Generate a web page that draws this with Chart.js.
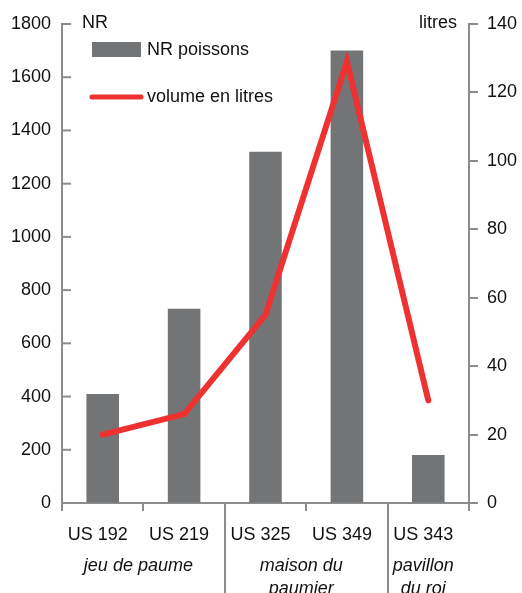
<!DOCTYPE html>
<html>
<head>
<meta charset="utf-8">
<script src="https://cdn.jsdelivr.net/npm/chart.js@4"></script>
<style>
  html, body { margin: 0; padding: 0; background: #fff; }
  canvas { display: block; }
</style>
</head>
<body>
<canvas id="chart" width="522" height="593"></canvas>
<script>
// data
const categories = ['US 192', 'US 219', 'US 325', 'US 349', 'US 343'];
const nrPoissons = [410, 730, 1320, 1700, 180];
const volumeLitres = [20, 26, 55, 129, 30];
const groups = [
    { lines: ['jeu de paume'], from: 0, to: 1 },
    { lines: ['maison du', 'paumier'], from: 2, to: 3 },
    { lines: ['pavillon', 'du roi'], from: 4, to: 4 }
];

const axisGrey = '#8c8c8c';
const textColor = '#111';
const font = 'Liberation Sans, Arial, sans-serif';

// extras: inward ticks on the left axis, group labels, separators, legend, axis titles
const extras = {
    id: 'extras',
    afterDraw(chart) {
        const c = chart.ctx;
        const area = chart.chartArea;
        const x = chart.scales.x;
        const y = chart.scales.y;
        c.save();

        // left axis ticks point into the plot
        c.strokeStyle = axisGrey;
        c.lineWidth = 2;
        y.ticks.forEach(t => {
            const py = y.getPixelForValue(t.value);
            c.beginPath();
            c.moveTo(area.left, py);
            c.lineTo(area.left + 9, py);
            c.stroke();
        });

        // long separators between groups
        const step = (area.right - area.left) / categories.length;
        groups.slice(1).forEach(g => {
            const sx = Math.round(area.left + g.from * step);
            c.beginPath();
            c.moveTo(sx, area.bottom);
            c.lineTo(sx, 593);
            c.stroke();
        });

        // group names
        c.fillStyle = textColor;
        c.font = 'italic 18px ' + font;
        c.textAlign = 'center';
        c.textBaseline = 'alphabetic';
        groups.forEach(g => {
            const cx = (x.getPixelForValue(g.from) + x.getPixelForValue(g.to)) / 2 - 5;
            g.lines.forEach((txt, i) => c.fillText(txt, cx, 571 + i * 23));
        });

        // axis titles
        c.font = '18px ' + font;
        c.textAlign = 'left';
        c.fillText('NR', 82, 28);
        c.textAlign = 'right';
        c.fillText('litres', 457, 28);

        // legend
        c.fillStyle = '#727476';
        c.fillRect(92, 42, 49, 15);
        c.strokeStyle = '#ee3131';
        c.lineWidth = 5;
        c.lineCap = 'round';
        c.beginPath();
        c.moveTo(92, 97);
        c.lineTo(141, 97);
        c.stroke();
        c.fillStyle = textColor;
        c.textAlign = 'left';
        c.fillText('NR poissons', 147, 55);
        c.fillText('volume en litres', 147, 102);

        c.restore();
    }
};

new Chart(document.getElementById('chart'), {
    data: {
        labels: categories,
        datasets: [{
            type: 'line',
            label: 'volume en litres',
            data: volumeLitres,
            yAxisID: 'y1',
            borderColor: '#ee3131',
            borderWidth: 6,
            borderCapStyle: 'round',
            borderJoinStyle: 'miter',
            pointRadius: 0,
            tension: 0
        }, {
            type: 'bar',
            label: 'NR poissons',
            data: nrPoissons,
            yAxisID: 'y',
            backgroundColor: '#727476',
            categoryPercentage: 1,
            barPercentage: 0.4
        }]
    },
    options: {
        responsive: false,
        animation: false,
        devicePixelRatio: 1,
        layout: { padding: { top: 24, left: 0, right: 0, bottom: 0 } },
        plugins: {
            legend: { display: false },
            tooltip: { enabled: false }
        },
        scales: {
            x: {
                afterFit(scale) { scale.height = 90; },
                border: { color: axisGrey, width: 2 },
                grid: { offset: true, drawOnChartArea: false, color: axisGrey, lineWidth: 2, tickLength: 8 },
                ticks: { color: textColor, font: { family: font, size: 18 }, padding: 13, labelOffset: -5, maxRotation: 0, autoSkip: false }
            },
            y: {
                position: 'left',
                min: 0,
                max: 1800,
                afterFit(scale) { scale.width = 62; },
                border: { color: axisGrey, width: 2 },
                grid: { drawOnChartArea: false, drawTicks: false },
                ticks: { stepSize: 200, color: textColor, font: { family: font, size: 18 }, padding: 11, callback: v => String(v) }
            },
            y1: {
                position: 'right',
                min: 0,
                max: 140,
                afterFit(scale) { scale.width = 53; },
                border: { color: axisGrey, width: 2 },
                grid: { drawOnChartArea: false, color: axisGrey, lineWidth: 2, tickLength: 9 },
                ticks: { stepSize: 20, color: textColor, font: { family: font, size: 18 }, padding: 9, callback: v => String(v) }
            }
        }
    },
    plugins: [extras]
});
</script>
</body>
</html>
